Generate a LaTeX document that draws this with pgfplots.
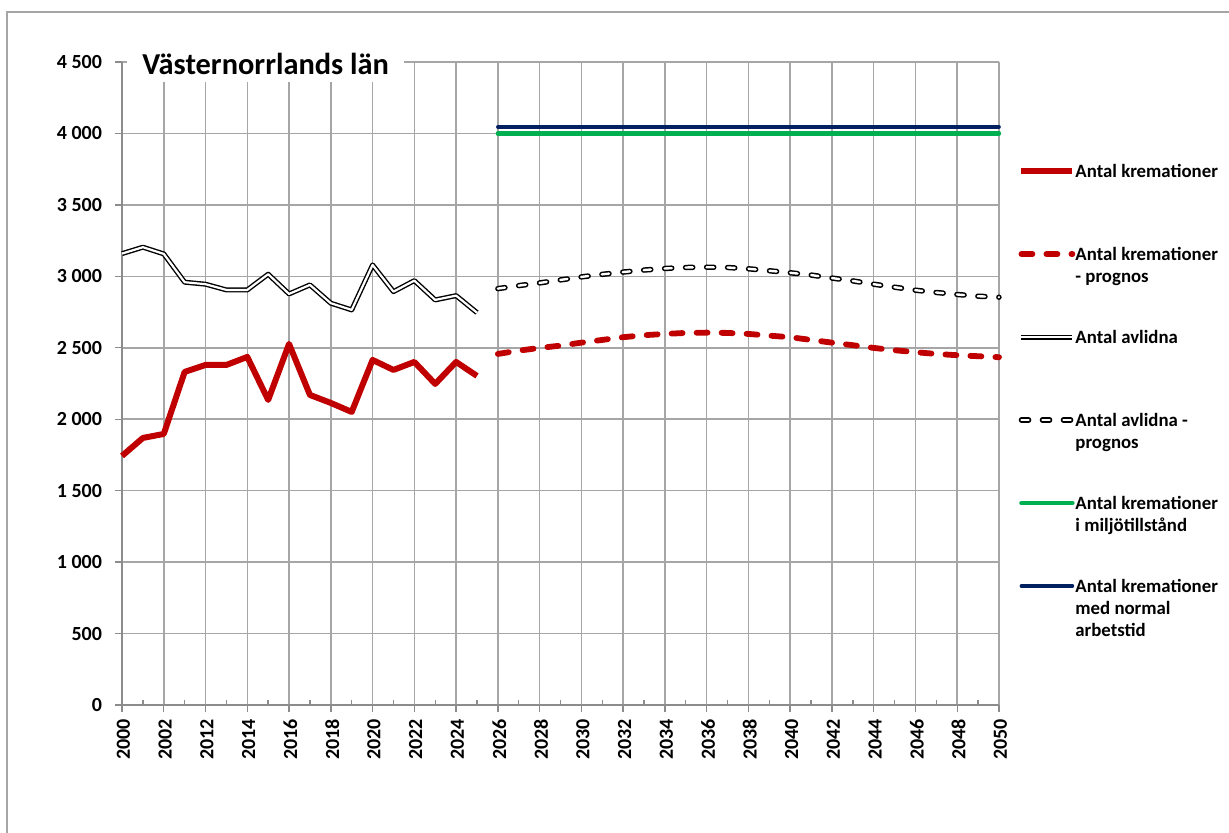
\documentclass[border=0pt]{standalone}
\usepackage{fontspec}
\setmainfont{Carlito}
\usepackage{pgfplots}
\pgfplotsset{compat=1.18}

\definecolor{krem}{HTML}{C00000}
\definecolor{miljo}{HTML}{00B050}
\definecolor{normal}{HTML}{002060}
\definecolor{gridc}{HTML}{A6A6A6}
\definecolor{axisc}{HTML}{8C8C8C}

% legend text: baseline on the first line
\newcommand{\leg}[1]{\begin{tabular}[t]{@{}l@{}}#1\end{tabular}}

\begin{document}
\begin{tikzpicture}
  % 1 px of the reference = 0.5pt
  \useasboundingbox (0pt,0pt) rectangle (614.5pt,-416.5pt);
  % outer chart frame (only left and top edges visible)
  \draw[gridc, line width=0.7pt] (3.5pt,-416.5pt) -- (3.5pt,-6pt) -- (614.5pt,-6pt);

  \begin{axis}[
    at={(61pt,-352.5pt)}, anchor=south west,
    scale only axis, width=438.5pt, height=321.5pt,
    xmin=0, xmax=42, ymin=0, ymax=4500,
    axis lines=left, axis line style={axisc, line width=0.7pt, -},
    tick style={axisc, line width=0.7pt},
    tick align=outside, major tick length=3.5pt,
    xtick={0,2,...,42},
    xticklabels={2000,2002,2012,2014,2016,2018,2020,2022,2024,2026,2028,2030,
                 2032,2034,2036,2038,2040,2042,2044,2046,2048,2050},
    extra x ticks={1,3,...,41},
    extra x tick labels={},
    extra x tick style={grid=none, tick align=inside, major tick length=2.5pt},
    ytick={0,500,...,4500},
    yticklabels={0,500,1 000,1 500,2 000,2 500,3 000,3 500,4 000,4 500},
    grid=major, major grid style={gridc, line width=0.75pt},
    ticklabel style={font=\bfseries\fontsize{10}{12}\selectfont},
    xticklabel style={rotate=90, anchor=east, yshift=-0.7pt},
    yticklabel style={xshift=-3pt},
    clip=false,
    legend cell align=left,
    legend style={at={(1.0217,0.843)}, anchor=north west, draw=none, fill=none,
      inner sep=0pt, row sep=0pt, column sep=0pt,
      nodes={inner sep=0pt, text height=7pt, text depth=34.5pt,
             font=\bfseries\fontsize{9.4}{11}\selectfont}},
    legend image code/.code={\draw[#1] (0pt,16.9pt) -- (25.5pt,16.9pt);},
  ]
    % Antal kremationer
    \addplot[krem, line width=3pt, line join=round] coordinates {
      (0,1743) (1,1869) (2,1897) (3,2331) (4,2380) (5,2380) (6,2436)
      (7,2135) (8,2527) (9,2170) (10,2114) (11,2051) (12,2415) (13,2345)
      (14,2401) (15,2247) (16,2401) (17,2303)};
    \addlegendentry{\leg{Antal kremationer}}
    % Antal kremationer - prognos
    \addplot[krem, line width=2.9pt, line cap=round, dash pattern=on 5.5pt off 7pt] coordinates {
      (18,2457) (19,2480) (20,2499) (21,2515) (22,2536) (23,2555) (24,2574)
      (25,2588) (26,2597) (27,2604) (28,2606) (29,2604) (30,2597) (31,2585)
      (32,2574) (33,2555) (34,2536) (35,2518) (36,2499) (37,2483) (38,2469)
      (39,2457) (40,2448) (41,2441) (42,2434)};
    \addlegendentry{\leg{Antal kremationer\\- prognos}}
    % Antal avlidna
    \addplot[black, line width=0.7pt, double=white, double distance=1.1pt, line join=round] coordinates {
      (0,3159) (1,3204) (2,3157) (3,2959) (4,2945) (5,2905) (6,2905)
      (7,3015) (8,2877) (9,2940) (10,2812) (11,2765) (12,3080) (13,2893)
      (14,2970) (15,2835) (16,2865) (17,2746)};
    \addlegendentry{\leg{Antal avlidna}}
    % Antal avlidna - prognos
    \addplot[black, line width=0.75pt, double=white, double distance=1.2pt, line cap=round,
             dash pattern=on 3.6pt off 6.9pt] coordinates {
      (18,2914) (19,2935) (20,2954) (21,2975) (22,2996) (23,3014) (24,3030)
      (25,3044) (26,3055) (27,3062) (28,3064) (29,3062) (30,3053) (31,3039)
      (32,3025) (33,3009) (34,2988) (35,2968) (36,2945) (37,2924) (38,2903)
      (39,2887) (40,2873) (41,2861) (42,2854)};
    \addlegendentry{\leg{Antal avlidna -\\prognos}}
    % Antal kremationer i miljotillstand
    \addplot[miljo, line width=2.2pt, line cap=round] coordinates {(18,4000) (42,4000)};
    \addlegendentry{\leg{Antal kremationer\\i miljötillstånd}}
    % Antal kremationer med normal arbetstid
    \addplot[normal, line width=1.8pt, line cap=round] coordinates {(18,4046) (42,4046)};
    \addlegendentry{\leg{Antal kremationer\\med normal\\arbetstid}}

    \node[fill=white, inner xsep=7.5pt, inner ysep=3.5pt, anchor=south west,
          font=\bfseries\fontsize{15.2}{17}\selectfont]
      at (rel axis cs:0.0057,0.969) {Västernorrlands län\hspace{8pt}};
  \end{axis}
\end{tikzpicture}
\end{document}
